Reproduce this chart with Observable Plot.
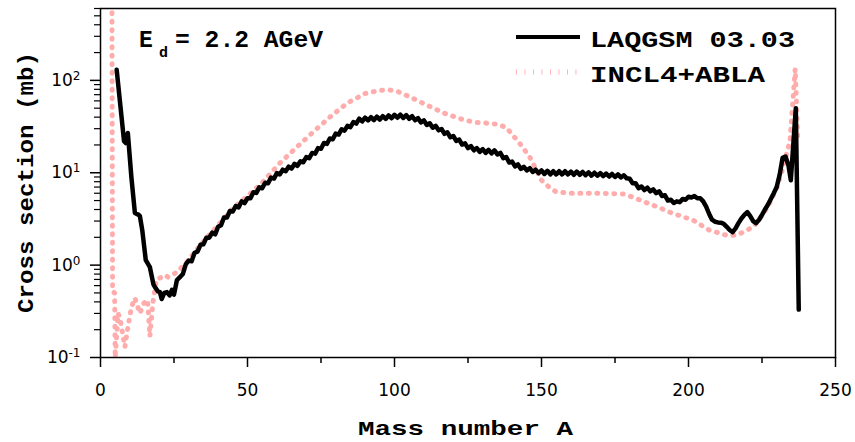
<!DOCTYPE html>
<html>
<head>
<meta charset="utf-8">
<script src="https://cdn.jsdelivr.net/npm/d3@7"></script>
<script src="https://cdn.jsdelivr.net/npm/@observablehq/plot@0.6"></script>
<style>
  html, body { margin: 0; padding: 0; background: #fff; }
  #chart { width: 855px; height: 442px; }
</style>
</head>
<body>
<div id="chart"></div>
<script>
// ---- data ----
const xMajorTicks = [0, 50, 100, 150, 200, 250];
const xMinorTicks = [25, 75, 125, 175, 225];
const yMajorTicks = [0.1, 1, 10, 100];
const yMinorTicks = [0.2,0.3,0.4,0.5,0.6,0.7,0.8,0.9, 2,3,4,5,6,7,8,9, 20,30,40,50,60,70,80,90, 200,300,400,500,600];

const seriesNames = ["LAQGSM 03.03", "INCL4+ABLA"];
const annotationText = "= 2.2 AGeV";

// LAQGSM 03.03 : mass number A
const laqA = [5.5,7,8,8.6,9.3,10.5,11.7,13,13.4,14.2,15.4,16.8,18,18.5,19.5,20.2,20.8,21.7,22.6,23.5,24.3,25,26,27,28,29,
  30,31,32,33,34,35,36,37,38,39,40,41,42,43,44,45,46,47,48,49,50,51,52,53,54,55,56,57,58,59,
  60,61,62,63,64,65,66,67,68,69,70,71,72,73,74,75,76,77,78,79,80,81,82,83,84,85,86,87,88,89,
  90,91,92,93,94,95,96,97,98,99,100,101,102,103,104,105,106,107,108,109,110,111,112,113,114,115,116,117,118,119,
  120,121,122,123,124,125,126,127,128,129,130,131,132,133,134,135,136,137,138,139,140,141,142,143,144,145,146,147,148,149,
  150,151,152,153,154,155,156,157,158,159,160,161,162,163,164,165,166,167,168,169,170,171,172,173,174,175,176,177,178,179,
  180,181,182,183,184,185,186,187,188,189,190,191,192,193,194,195,196,197,198,199,200,201,202,203,204,205,
  206,207,208,209,210,211,212,213,214,215,216,217,218,219,220,221,222,223,224,225,226,227,228,229,230,231,232,233,234,234.8,236.5,237.5];
// LAQGSM 03.03 : cross section (mb)
const laqSigma = [130,45,22,21,27,9,3.66,3.5,3.4,2.4,1.13,0.95,0.62,0.58,0.52,0.51,0.43,0.5,0.51,0.47,0.54,0.48,0.69,0.74,0.8,1.02,
  1.12,1.1,1.36,1.4,1.66,1.68,1.98,1.98,2.25,2.15,2.6,2.7,3.28,3.27,3.85,3.8,4.37,4.22,4.9,4.7,5.3,5.3,6.15,6.05,6.95,6.8,7.8,7.7,8.85,8.65,
  9.9,9.6,10.8,10.4,11.65,11.1,12.5,11.9,13.3,13.0,14.8,14.4,16.4,16.1,18.5,18.2,21,20.5,23.5,23,26.5,25.9,29.6,28.6,32.2,31.2,35.4,34.1,38.5,36,
  39.5,36.8,40,37.2,40.5,37.6,41,38.2,41.8,38.9,42.4,39.4,42.6,39.2,42.1,38.4,40.9,37,39,35,36.9,32.9,34.3,30.7,32.2,28.8,29.8,26.4,27.4,24.2,
  25,22.1,22.9,20.2,20.8,18.5,19.4,17.5,18.5,16.8,18,16.4,17.7,16.2,17.5,15.8,16.4,14.4,14.8,12.9,13.2,11.7,12.3,11,11.6,10.6,11.2,10.2,10.8,9.9,
  10.6,9.7,10.5,9.6,10.4,9.6,10.4,9.6,10.4,9.6,10.3,9.5,10.3,9.5,10.2,9.4,10.1,9.3,10,9.3,9.9,9.2,9.8,9.1,9.7,9.0,9.6,8.9,9.4,8.7,
  8.6,7.7,7.7,6.8,7.1,6.5,6.9,6.3,6.6,6.0,6.3,5.6,5.7,5.0,5.1,4.7,4.9,4.8,5.2,5.1,5.5,5.4,5.6,5.3,5.3,4.9,
  4.3,3.6,3.1,2.95,2.9,2.88,2.8,2.6,2.4,2.28,2.5,2.85,3.2,3.5,3.75,3.4,3.0,2.85,3.1,3.5,4.0,4.5,5.2,6.0,7.0,9.5,14.5,15,12,8.3,50,0.33];

// INCL4+ABLA : mass number A
const inclA = [3.9,4.1,4.8,5.0,6,6.6,8.3,9.3,10.5,11.7,13.4,14.5,16,16.8,17.8,19,22,23,26,29,35,40,45,50,55,61,66,72,78,84,90,95,98,101,104,110,117,124,128,131,135,138,140,142.5,146,150,153,155,160,170,178,182,186,190,194,198,201.5,207,213,216,219,222,224,227,230,232,234.5,236.3,237.2];
// INCL4+ABLA : cross section (mb)
const inclSigma = [540,0.52,0.5,0.1,0.3,0.27,0.13,0.21,0.35,0.44,0.3,0.38,0.42,0.17,0.39,0.69,0.78,0.74,0.84,1.05,1.8,2.7,4.1,5.6,7.8,12.7,18,27,40,57,72,78,79,76,69,56,44,37,35,34.5,33.5,31,26,21,14.8,8.3,6.8,6.2,6.0,6.0,5.9,5.3,4.7,4.2,3.7,3.35,3.07,2.4,2.1,2.1,2.3,2.6,3.07,4.3,6.8,11,22,133,21];

const laq = laqA.map((a, i) => ({A: a, sigma: laqSigma[i]}));
const incl = inclA.map((a, i) => ({A: a, sigma: inclSigma[i]}));

const pink = "#ff7f7f";
const mono = "'Liberation Mono', 'DejaVu Sans Mono', monospace";

const chart = Plot.plot({
  width: 855,
  height: 442,
  marginLeft: 100,
  marginRight: 20,
  marginTop: 8,
  marginBottom: 85,
  style: {fontFamily: "'DejaVu Sans', sans-serif", fontSize: "17px", color: "black", background: "white", overflow: "visible"},
  x: {domain: [0, 250]},
  y: {type: "log", domain: [0.1, 600]},
  marks: [
    Plot.axisX({ticks: xMajorTicks, tickSize: 10, tickPadding: 16, tickFormat: d => String(d), label: null, fontSize: 17, strokeWidth: 1.5}),
    Plot.axisX({ticks: xMinorTicks, tickSize: 6, tickFormat: () => "", label: null, strokeWidth: 1.5}),
    Plot.axisY({ticks: yMajorTicks, tickSize: 10, tickPadding: 10, tickFormat: d => "10^" + Math.round(Math.log10(d)), label: null, fontSize: 17, strokeWidth: 1.5}),
    Plot.axisY({ticks: yMinorTicks, tickSize: 6, tickFormat: () => "", label: null, strokeWidth: 1.2}),
    Plot.line(incl, {x: "A", y: "sigma", stroke: pink, strokeWidth: 5, strokeDasharray: "0.9,7.6", strokeOpacity: 0.65, clip: true}),
    Plot.line(laq, {x: "A", y: "sigma", stroke: "black", strokeWidth: 4.5, strokeLinejoin: "round", clip: true}),
    Plot.frame({stroke: "black", strokeWidth: 1.5})
  ]
});

document.getElementById("chart").appendChild(chart);

// superscript exponents on y tick labels
const svg = d3.select(chart);
svg.selectAll('g[aria-label="y-axis tick label"] text').each(function() {
  const t = d3.select(this);
  const s = t.text();
  const parts = s.split("^");
  if (parts.length === 2) {
    t.text(parts[0]);
    t.append("tspan").attr("dy", "-0.5em").attr("font-size", "12px").text(parts[1]);
  }
});

const txt = (sel) => sel.attr("text-anchor", "start").attr("font-family", mono).attr("font-weight", "bold").attr("fill", "black");

// axis titles
txt(svg.append("text"))
  .attr("x", 358).attr("y", 435)
  .attr("textLength", 215).attr("lengthAdjust", "spacingAndGlyphs")
  .attr("font-size", 21)
  .text("Mass number A");

txt(svg.append("text"))
  .attr("transform", "translate(33,313) rotate(-90)")
  .attr("textLength", 261).attr("lengthAdjust", "spacingAndGlyphs")
  .attr("font-size", 22)
  .text("Cross section (mb)");

// annotation
txt(svg.append("text")).attr("x", 139).attr("y", 47).attr("font-size", 23).text("E");
txt(svg.append("text")).attr("x", 159).attr("y", 57).attr("font-size", 15).text("d");
txt(svg.append("text")).attr("x", 175).attr("y", 47)
  .attr("textLength", 148).attr("lengthAdjust", "spacingAndGlyphs")
  .attr("font-size", 23).text(annotationText);

// legend
const leg = svg.append("g");
leg.append("line").attr("x1", 516).attr("x2", 580).attr("y1", 37).attr("y2", 37)
  .attr("stroke", "black").attr("stroke-width", 4);
txt(leg.append("text")).attr("x", 590).attr("y", 47)
  .attr("textLength", 205).attr("lengthAdjust", "spacingAndGlyphs")
  .attr("font-size", 22).text(seriesNames[0]);
leg.append("line").attr("x1", 516).attr("x2", 577).attr("y1", 72).attr("y2", 72)
  .attr("stroke", pink).attr("stroke-width", 5).attr("stroke-dasharray", "0.9,7.6").attr("stroke-opacity", 0.65);
txt(leg.append("text")).attr("x", 590).attr("y", 82)
  .attr("textLength", 175).attr("lengthAdjust", "spacingAndGlyphs")
  .attr("font-size", 22).text(seriesNames[1]);
</script>
</body>
</html>
